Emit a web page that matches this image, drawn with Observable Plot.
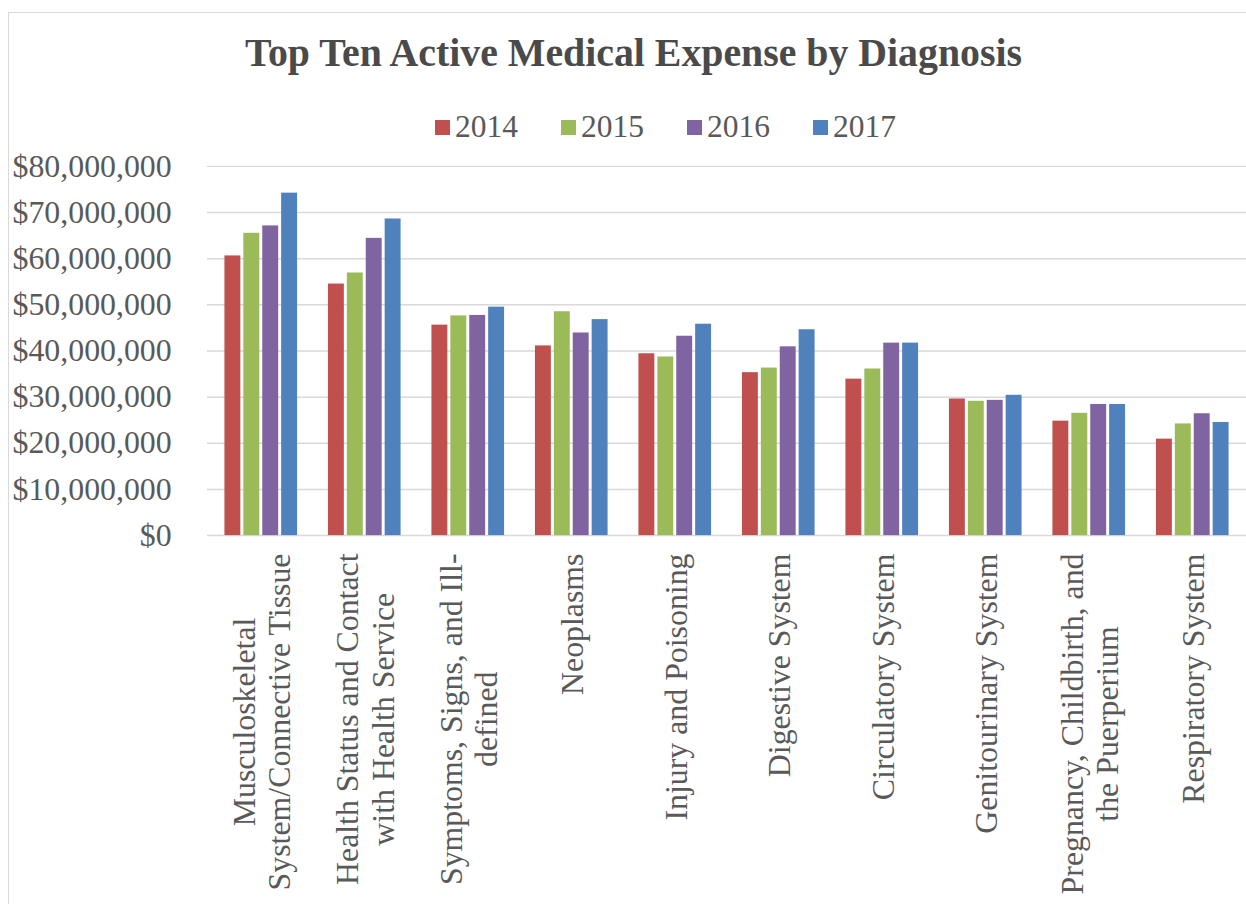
<!DOCTYPE html>
<html><head><meta charset="utf-8">
<script src="https://cdn.jsdelivr.net/npm/d3@7"></script>
<script src="https://cdn.jsdelivr.net/npm/@observablehq/plot@0.6"></script>
<style>
html,body{margin:0;padding:0;background:#fff;overflow:hidden;width:1246px;height:904px;position:relative;}
#frame{position:absolute;left:8px;top:12px;width:1300px;height:1000px;border:1.5px solid #d9d9d9;box-sizing:border-box;}
#title{position:absolute;left:245px;top:30px;white-space:nowrap;font-family:"Liberation Serif","Times New Roman",serif;font-weight:bold;font-size:39px;line-height:46px;color:#4a4a4a;transform-origin:0 0;}
#legend{position:absolute;left:435px;top:109px;display:flex;align-items:center;font-family:"Liberation Serif","Times New Roman",serif;font-size:31.5px;line-height:36px;color:#595959;}
#legend .item{display:flex;align-items:center;margin-right:43px;}
#legend .sw{width:15px;height:15px;margin-right:5px;}
#chart{position:absolute;left:0;top:140px;}
</style>
</head><body>
<div id="frame"></div>
<div id="title">Top Ten Active Medical Expense by Diagnosis</div>
<div id="legend"></div>
<div id="chart"></div>
<script>
const categories = [
  "Musculoskeletal System/Connective Tissue",
  "Health Status and Contact with Health Service",
  "Symptoms, Signs, and Ill-defined",
  "Neoplasms",
  "Injury and Poisoning",
  "Digestive System",
  "Circulatory System",
  "Genitourinary System",
  "Pregnancy, Childbirth, and the Puerperium",
  "Respiratory System"
];
const tickLabels = [
  "Musculoskeletal\nSystem/Connective Tissue",
  "Health Status and Contact\nwith Health Service",
  "Symptoms, Signs, and Ill-\ndefined",
  "Neoplasms",
  "Injury and Poisoning",
  "Digestive System",
  "Circulatory System",
  "Genitourinary System",
  "Pregnancy, Childbirth, and\nthe Puerperium",
  "Respiratory System"
];
const years = ["2014", "2015", "2016", "2017"];
const colors = ["#C0504D", "#9BBB59", "#8064A2", "#4F81BD"];
const v2014 = [60.6, 54.5, 45.6, 41.1, 39.4, 35.3, 33.9, 29.6, 24.8, 20.9];
const v2015 = [65.5, 56.9, 47.6, 48.5, 38.7, 36.3, 36.1, 29.1, 26.5, 24.2];
const v2016 = [67.1, 64.4, 47.7, 43.9, 43.2, 40.9, 41.7, 29.3, 28.4, 26.4];
const v2017 = [74.2, 68.6, 49.5, 46.8, 45.8, 44.6, 41.7, 30.4, 28.4, 24.5];
const yTicks = [0, 10e6, 20e6, 30e6, 40e6, 50e6, 60e6, 70e6, 80e6];

const series = [v2014, v2015, v2016, v2017];
const rows = [];
years.forEach((yr, i) => categories.forEach((c, j) => rows.push({category: c, year: yr, value: series[i][j] * 1e6})));

// title width fit
const title = document.getElementById("title");
const tw = title.getBoundingClientRect().width;
title.style.transform = `scaleX(${777 / tw})`;

// legend
const leg = document.getElementById("legend");
years.forEach((yr, i) => {
  const it = document.createElement("div"); it.className = "item";
  const sw = document.createElement("div"); sw.className = "sw"; sw.style.background = colors[i];
  const tx = document.createElement("span"); tx.textContent = yr;
  it.appendChild(sw); it.appendChild(tx); leg.appendChild(it);
});

const labelOf = new Map(categories.map((c, i) => [c, tickLabels[i]]));
const barW = 16, gap = 3;
const fmt = d3.format(",");

const marks = [
  Plot.gridY(yTicks, {stroke: "#d9d9d9", strokeOpacity: 1, strokeWidth: 1.5}),
  ...years.map((yr, i) => Plot.barY(rows.filter(r => r.year === yr), {
    x: "category", y: "value", fill: colors[i], dx: (i - 1.5) * (barW + gap)
  })),
  Plot.axisY({ticks: yTicks, tickSize: 0, tickPadding: 36, tickFormat: d => "$" + fmt(d), fontSize: 32, fill: "#595959"}),
  Plot.axisX({tickSize: 0, tickPadding: 18, tickRotate: -90, tickFormat: d => labelOf.get(d), fontSize: 32, lineHeight: 1.12, fill: "#595959"})
];

const plot = Plot.plot({
  width: 1252,
  height: 764,
  marginLeft: 208,
  marginRight: 0,
  marginTop: 26,
  marginBottom: 367,
  style: {fontFamily: "Liberation Serif", background: "transparent", overflow: "visible"},
  x: {domain: categories, paddingInner: 1 - barW / 104.4, paddingOuter: (1 - barW / 104.4) / 2, label: null},
  y: {domain: [0, 80e6], label: null},
  marks
});
document.getElementById("chart").appendChild(plot);

// center multi-line rotated tick labels on each other, top-aligned at the axis
plot.querySelectorAll('g[aria-label="x-axis tick label"] text').forEach(t => {
  const spans = t.querySelectorAll("tspan");
  let w = 0;
  if (spans.length) spans.forEach(s => { w = Math.max(w, s.getComputedTextLength()); });
  else w = t.getComputedTextLength();
  t.setAttribute("text-anchor", "middle");
  const tr = t.getAttribute("transform") || "";
  t.setAttribute("transform", tr + ` translate(${-w / 2},0)`);
});
</script>
</body></html>
